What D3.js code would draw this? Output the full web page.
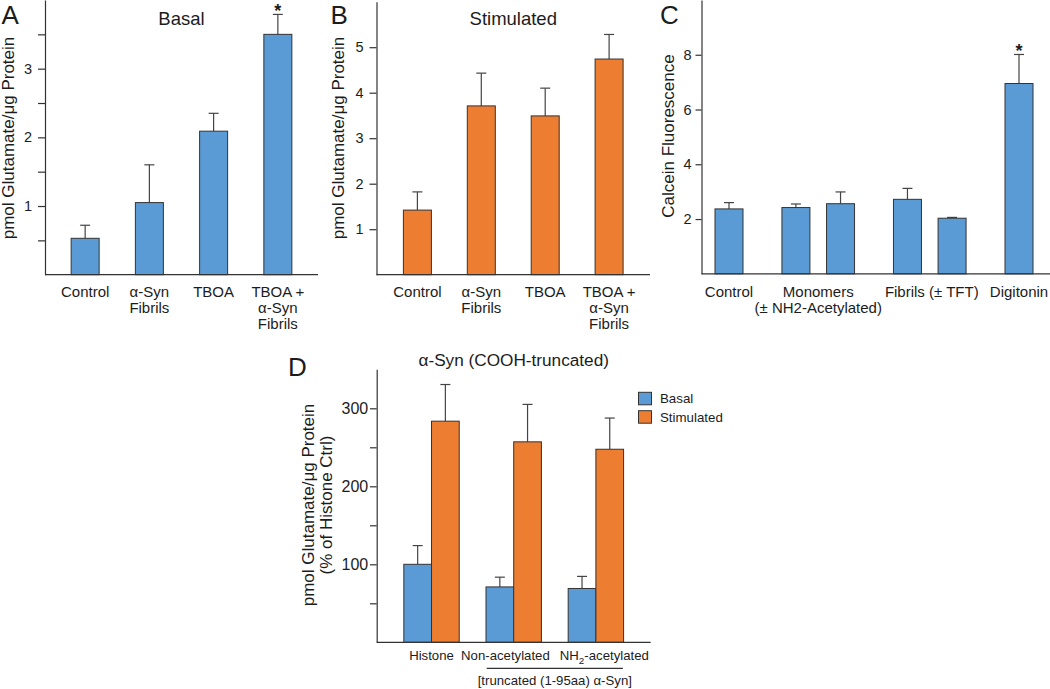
<!DOCTYPE html>
<html><head><meta charset="utf-8">
<script src="https://cdn.jsdelivr.net/npm/d3@7"></script>
<style>
body{margin:0;background:#fff}
svg text{font-family:"Liberation Sans",Arial,Helvetica,sans-serif;fill:#1c1c1c}
</style>
</head><body>
<svg id="chart" width="1050" height="689"></svg>
<script>
// ---------- DATA ----------
const abCategories = ["Control", "α-Syn|Fibrils", "TBOA", "TBOA +|α-Syn|Fibrils"];
const basalMeans   = [0.53, 1.05, 2.09, 3.50];
const basalErrors  = [0.19, 0.55, 0.26, 0.29];
const stimMeans    = [1.42, 3.71, 3.49, 4.74];
const stimErrors   = [0.40, 0.72, 0.61, 0.54];
const aTicks = [1, 2, 3];
const aMinorTicks = [0.5, 1.5, 2.5, 3.5];
const bTicks = [1, 2, 3, 4, 5];
const aStars = [3];

const cGroups = ["Control", "Monomers|(± NH2-Acetylated)", "Fibrils (± TFT)", "Digitonin"];
const cBarGroup = [0, 1, 1, 2, 2, 3];
const calceinMeans  = [2.37, 2.42, 2.56, 2.72, 2.03, 6.95];
const calceinErrors = [0.23, 0.13, 0.43, 0.40, 0.03, 1.06];
const cTicks = [2, 4, 6, 8];
const cStars = [5];

const dGroups = ["Histone", "Non-acetylated", "NH2-acetylated"];
const dSeries = ["Basal", "Stimulated"];
const dBasalMeans  = [100, 71, 69];
const dBasalErrors = [24, 12.5, 15.5];
const dStimMeans   = [283.5, 257, 247.5];
const dStimErrors  = [47, 48, 40];
const dTicks = [100, 200, 300];
const dMinorTicks = [50, 150, 250];

// ---------- STYLE ----------
const BLUE = "#5b9bd5", ORANGE = "#ed7d31", EDGE = "#333", AX = "#333";
const svg = d3.select("#chart");
svg.append("rect").attr("width",1050).attr("height",689).attr("fill","#fff");

function yAxis(g, y, x0, ticks, minor, size, pad, fs) {
  const ax = g.append("g").attr("transform", `translate(${x0},0)`)
    .call(d3.axisLeft(y).tickValues(ticks).tickSize(size).tickSizeOuter(0).tickPadding(pad).tickFormat(d3.format("d")));
  ax.select(".domain").attr("stroke", AX).attr("stroke-width", 1.2);
  ax.selectAll(".tick line").attr("stroke", AX).attr("stroke-width", 1.2);
  ax.selectAll(".tick text").attr("font-size", fs).attr("font-family", null).attr("fill", "#1c1c1c");
  if (minor) {
    const m = g.append("g").attr("transform", `translate(${x0},0)`)
      .call(d3.axisLeft(y).tickValues(minor).tickSize(size).tickSizeOuter(0).tickFormat(""));
    m.select(".domain").remove();
    m.selectAll(".tick line").attr("stroke", AX).attr("stroke-width", 1.2);
  }
}
function xLine(g, x0, x1, yb) {
  g.append("line").attr("x1", x0).attr("x2", x1).attr("y1", yb).attr("y2", yb)
    .attr("stroke", AX).attr("stroke-width", 1.2);
}
function bars(g, items, y, color) {
  g.selectAll(null).data(items).join("line")
    .attr("x1", d => d.x + d.w/2).attr("x2", d => d.x + d.w/2)
    .attr("y1", d => y(d.v)).attr("y2", d => y(d.v + d.e))
    .attr("stroke", "#444").attr("stroke-width", 1.2);
  g.selectAll(null).data(items).join("line")
    .attr("x1", d => d.x + d.w/2 - 5).attr("x2", d => d.x + d.w/2 + 5)
    .attr("y1", d => y(d.v + d.e)).attr("y2", d => y(d.v + d.e))
    .attr("stroke", "#444").attr("stroke-width", 1.2);
  g.selectAll(null).data(items).join("rect")
    .attr("x", d => d.x).attr("width", d => d.w)
    .attr("y", d => y(d.v)).attr("height", d => y(0) - y(d.v))
    .attr("fill", color).attr("stroke", EDGE).attr("stroke-width", 1);
}
function multiLabel(g, x, y0, label, fs, lh) {
  const t = g.append("text").attr("x", x).attr("y", y0).attr("text-anchor", "middle").attr("font-size", fs);
  label.split("|").forEach((s, i) => t.append("tspan").attr("x", x).attr("dy", i ? lh : 0).text(s));
}
function star(g, x, yv) {
  g.append("text").attr("x", x).attr("y", yv + 2.8).attr("text-anchor", "middle")
    .attr("font-size", 18).attr("font-weight", "bold").text("*");
}
function ylabel(g, x, y, txt, fs) {
  g.append("text").attr("transform", `translate(${x},${y}) rotate(-90)`)
    .attr("text-anchor", "middle").attr("font-size", fs).text(txt);
}
function letter(g, x, y, t) {
  g.append("text").attr("x", x).attr("y", y).attr("font-size", 26).text(t);
}

// ---------- PANEL A / B ----------
function panelAB(opts) {
  const g = svg.append("g");
  const x = d3.scalePoint().domain(abCategories).range([opts.x0, opts.x1]).padding(opts.pad);
  const y = d3.scaleLinear().domain([0, opts.ymax]).range([274.7, opts.ytop]);
  const bw = 28;
  bars(g, abCategories.map((c, i) => ({x: x(c) - bw/2, w: bw, v: opts.means[i], e: opts.errs[i]})), y, opts.color);
  yAxis(g, y, opts.x0, opts.ticks, opts.minor, 7, 6, 14.5);
  xLine(g, opts.x0, opts.x1, y(0));
  abCategories.forEach(c => multiLabel(g, x(c), 296.5, c, 15, 16.4));
  (opts.stars || []).forEach(i => star(g, x(abCategories[i]), y(opts.means[i] + opts.errs[i])));
  g.append("text").attr("x", (opts.x0 + opts.x1)/2).attr("y", 25).attr("text-anchor", "middle")
    .attr("font-size", 18.5).text(opts.title);
  ylabel(g, opts.labX, 138, "pmol Glutamate/μg Protein", 17);
  letter(g, opts.letX, 24, opts.letter);
}
panelAB({x0: 45, x1: 318, pad: 0.625, ymax: 4, ytop: 0, means: basalMeans, errs: basalErrors,
  ticks: aTicks, minor: aMinorTicks, color: BLUE, title: "Basal", stars: aStars, labX: 13.5, letX: 1.5, letter: "A"});
panelAB({x0: 376.5, x1: 650, pad: 0.64, ymax: 6, ytop: 1.7, means: stimMeans, errs: stimErrors,
  ticks: bTicks, minor: null, color: ORANGE, title: "Stimulated", labX: 343.5, letX: 330.5, letter: "B"});

// ---------- PANEL C ----------
(function () {
  const g = svg.append("g");
  // slot layout: 2 slots between bars in a group, 3 slots between groups
  const slots = [];
  let s = 0;
  cBarGroup.forEach((gi, i) => { if (i > 0) s += (gi === cBarGroup[i-1]) ? 2 : 3; slots.push(s); });
  const x = d3.scaleLinear().domain([0, d3.max(slots)]).range([729, 1019]);
  const y = d3.scaleLinear().domain([0, 10]).range([273.8, 0]);
  const bw = 28;
  bars(g, calceinMeans.map((v, i) => ({x: x(slots[i]) - bw/2, w: bw, v, e: calceinErrors[i]})), y, BLUE);
  yAxis(g, y, 701.5, cTicks, null, 6, 4, 14.5);
  xLine(g, 701.5, 1050, y(0));
  cGroups.forEach((lab, gi) => {
    const xs = slots.filter((_, i) => cBarGroup[i] === gi).map(x);
    multiLabel(g, d3.mean(xs) + (gi === 2 ? 2 : 0), 296.5, lab, 15, 16);
  });
  cStars.forEach(i => star(g, x(slots[i]), y(calceinMeans[i] + calceinErrors[i])));
  ylabel(g, 673.5, 136, "Calcein Fluorescence", 17);
  letter(g, 660, 24, "C");
})();

// ---------- PANEL D ----------
(function () {
  const g = svg.append("g");
  const x0 = 376.7, x1 = 650.7;
  const x = d3.scalePoint().domain(dGroups).range([x0, x1]).padding(0.667);
  const y = d3.scaleLinear().domain([0, 350]).range([642.3, 369.3]);
  const bw = 27.7;
  bars(g, dGroups.map((c, i) => ({x: x(c) - bw, w: bw, v: dBasalMeans[i], e: dBasalErrors[i]})), y, BLUE);
  bars(g, dGroups.map((c, i) => ({x: x(c), w: bw, v: dStimMeans[i], e: dStimErrors[i]})), y, ORANGE);
  yAxis(g, y, x0, dTicks, dMinorTicks, 6.7, 1.8, 16);
  xLine(g, x0, x1, y(0));
  const fs = 13.2;
  g.append("text").attr("x", x(dGroups[0])).attr("y", 660).attr("text-anchor", "middle").attr("font-size", fs).text(dGroups[0]);
  const mid = (x(dGroups[1]) + x(dGroups[2])) / 2;
  g.append("text").attr("x", mid - 5).attr("y", 660).attr("text-anchor", "end").attr("font-size", fs).text(dGroups[1]);
  const t3 = g.append("text").attr("x", mid + 5).attr("y", 660).attr("text-anchor", "start").attr("font-size", fs);
  t3.append("tspan").text("NH");
  t3.append("tspan").attr("font-size", fs * 0.75).attr("dy", 4).text("2");
  t3.append("tspan").attr("dy", -4).text("-acetylated");
  g.append("line").attr("x1", x(dGroups[1]) - 27).attr("x2", x(dGroups[2]) + 27)
    .attr("y1", 668.3).attr("y2", 668.3).attr("stroke", "#333").attr("stroke-width", 1.2);
  g.append("text").attr("x", mid).attr("y", 685).attr("text-anchor", "middle").attr("font-size", fs)
    .text("[truncated (1-95aa) α-Syn]");
  g.append("text").attr("x", (x0 + x1)/2).attr("y", 366).attr("text-anchor", "middle").attr("font-size", 17.2)
    .text("α-Syn (COOH-truncated)");
  const yl = g.append("text").attr("transform", "translate(314,505) rotate(-90)").attr("text-anchor", "middle").attr("font-size", 17);
  yl.append("tspan").attr("x", 0).attr("y", 0).text("pmol Glutamate/μg Protein");
  yl.append("tspan").attr("x", 0).attr("y", 18).text("(% of Histone Ctrl)");
  letter(g, 288, 376, "D");
  const colors = [BLUE, ORANGE];
  const lg = g.append("g");
  dSeries.forEach((name, i) => {
    lg.append("rect").attr("x", 638.5).attr("y", 392.3 + i * 18.4).attr("width", 13).attr("height", 12.5)
      .attr("fill", colors[i]).attr("stroke", EDGE).attr("stroke-width", 1);
    lg.append("text").attr("x", 660).attr("y", 403 + i * 18.6).attr("font-size", 13.3).text(name);
  });
})();
</script>
</body></html>
